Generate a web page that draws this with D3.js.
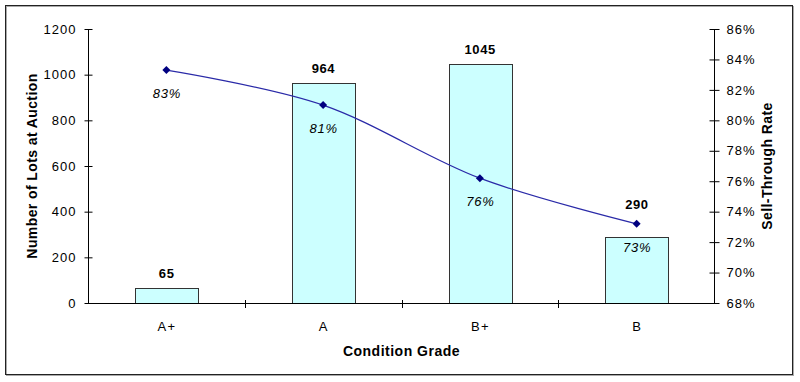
<!DOCTYPE html>
<html><head><meta charset="utf-8">
<script src="https://cdn.jsdelivr.net/npm/d3@7"></script>
<style>body{margin:0;background:#fff}svg{display:block;font-family:Arial,"Liberation Sans",sans-serif}</style>
</head><body>
<svg id="c" width="800" height="382"></svg>
<script>
const categories = ["A+", "A", "B+", "B"];
const lots = [65, 964, 1045, 290];
const sellThrough = [83.3, 81.0, 76.2, 73.2];
const sellLabels = ["83%", "81%", "76%", "73%"];
const leftTicks = [0, 200, 400, 600, 800, 1000, 1200];
const rightTicks = [68, 70, 72, 74, 76, 78, 80, 82, 84, 86];

const svg = d3.select("#c");
const L = 88, R = 715, T = 29, B = 303;
const FONT = "Arial, 'Liberation Sans', sans-serif";

// frame
svg.append("rect").attr("x", 6.5).attr("y", 6.5).attr("width", 787).attr("height", 369)
  .attr("fill", "none").attr("stroke", "#aaa").attr("stroke-width", 1);
svg.append("rect").attr("x", 5.5).attr("y", 5.5).attr("width", 787).attr("height", 369)
  .attr("fill", "none").attr("stroke", "#222").attr("stroke-width", 1);

const x = d3.scaleBand().domain(categories).range([L, R]).padding(0);
const y = d3.scaleLinear().domain([0, 1200]).range([B, T]);
const y2 = d3.scaleLinear().domain([68, 86]).range([B, T]);
const bw = x.bandwidth();
const cx = d => x(d) + bw / 2;

// bars
svg.selectAll("rect.bar").data(categories).join("rect").attr("class", "bar")
  .attr("x", d => Math.round(x(d) + bw * 0.3) + 0.5)
  .attr("width", Math.round(bw * 0.4))
  .attr("y", (d, i) => Math.round(y(lots[i])) + 0.5)
  .attr("height", (d, i) => Math.round(y(0)) - Math.round(y(lots[i])))
  .attr("fill", "#ccffff").attr("stroke", "#333").attr("stroke-width", 1);

// bar value labels (moved above the marker if it would collide)
svg.selectAll("text.bl").data(categories).join("text").attr("class", "bl")
  .attr("x", d => cx(d) + 0.3)
  .attr("y", (d, i) => {
    const top = y(lots[i]), my = y2(sellThrough[i]);
    return (my > top - 28 && my < top + 5) ? my - 15 : top - 10;
  })
  .attr("text-anchor", "middle").attr("font-size", 13).attr("font-weight", "bold")
  .attr("letter-spacing", 0.6)
  .text((d, i) => lots[i]);

// left axis
const ax = d3.axisLeft(y).tickValues(leftTicks).tickSize(4).tickPadding(8).tickFormat(d3.format("d"));
const gL = svg.append("g").attr("transform", `translate(${L + 0.5},0)`).call(ax);
gL.selectAll(".tick line").attr("x2", -4).attr("x1", 4);
gL.select(".domain").attr("d", `M0,${T}V${B}`);

// right axis
const ax2 = d3.axisRight(y2).tickValues(rightTicks).tickSize(4).tickPadding(8).tickFormat(d => d + "%");
const gR = svg.append("g").attr("transform", `translate(${R - 0.5},0)`).call(ax2);
gR.selectAll(".tick line").attr("x1", -5).attr("x2", 5);
gR.select(".domain").attr("d", `M0,${T}V${B}`);

// bottom axis
const ax3 = d3.axisBottom(x).tickSize(0).tickPadding(0);
const gB = svg.append("g").attr("transform", `translate(0,${B + 0.5})`).call(ax3);
gB.select(".domain").attr("d", `M${L},0H${R}`);
[gL, gR, gB].forEach(g => {
  g.selectAll("text").attr("font-size", 13).attr("font-family", FONT).attr("fill", "#000")
    .attr("letter-spacing", 1);
  g.selectAll("line,path").attr("stroke", "#000");
});
gB.selectAll(".tick text").attr("y", 27).attr("dy", 0).attr("letter-spacing", 1.3).attr("dx", 0.6);

// boundary ticks between categories
svg.selectAll("line.bt").data(categories.slice(1)).join("line").attr("class", "bt")
  .attr("x1", d => Math.round(x(d)) + 0.5).attr("x2", d => Math.round(x(d)) + 0.5)
  .attr("y1", B - 3).attr("y2", B + 5).attr("stroke", "#000");

// sell-through line
const line = d3.line().x((d, i) => cx(categories[i])).y(d => y2(d)).curve(d3.curveCatmullRom.alpha(0));
svg.append("path").datum(sellThrough).attr("d", line).attr("fill", "none")
  .attr("stroke", "#2a2aa8").attr("stroke-width", 1.2);
svg.selectAll("path.mk").data(sellThrough).join("path").attr("class", "mk")
  .attr("transform", (d, i) => `translate(${cx(categories[i])},${y2(d)})`)
  .attr("d", "M0,-4L4,0L0,4L-4,0Z").attr("fill", "#000080");
svg.selectAll("text.pl").data(sellThrough).join("text").attr("class", "pl")
  .attr("x", (d, i) => cx(categories[i]) + 0.5).attr("y", d => y2(d) + 28)
  .attr("text-anchor", "middle").attr("font-size", 13).attr("font-style", "italic")
  .attr("letter-spacing", 0.8)
  .text((d, i) => sellLabels[i]);

// titles
svg.append("text").attr("transform", `translate(37,${(T + B) / 2}) rotate(-90)`)
  .attr("text-anchor", "middle").attr("font-size", 14).attr("font-weight", "bold")
  .attr("letter-spacing", 0.4)
  .text("Number of Lots at Auction");
svg.append("text").attr("transform", `translate(772,${(T + B) / 2}) rotate(-90)`)
  .attr("text-anchor", "middle").attr("font-size", 14).attr("font-weight", "bold")
  .attr("letter-spacing", 0.4)
  .text("Sell-Through Rate");
svg.append("text").attr("x", (L + R) / 2).attr("y", 356)
  .attr("text-anchor", "middle").attr("font-size", 14).attr("font-weight", "bold")
  .attr("letter-spacing", 0.5)
  .text("Condition Grade");
</script>
</body></html>
